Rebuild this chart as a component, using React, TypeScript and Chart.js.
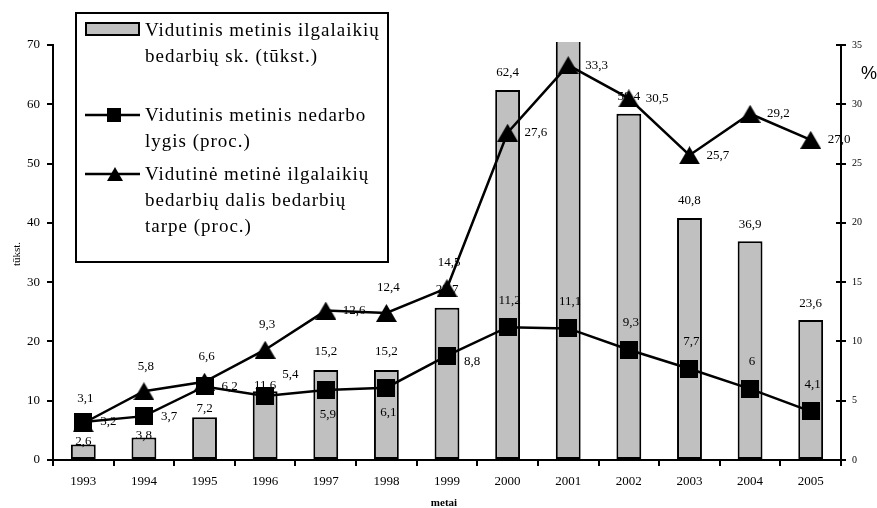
import { useEffect, useRef } from 'react';
import { Chart, registerables } from 'chart.js';

Chart.register(...registerables);

const years = ['1993', '1994', '1995', '1996', '1997', '1998', '1999', '2000', '2001', '2002', '2003', '2004', '2005'];
const longTermUnemployed = [2.6, 3.8, 7.2, 11.6, 15.2, 15.2, 25.7, 62.4, 72.0, 58.4, 40.8, 36.9, 23.6];
const unemploymentRate = [3.2, 3.7, 6.2, 5.4, 5.9, 6.1, 8.8, 11.2, 11.1, 9.3, 7.7, 6, 4.1];
const longTermShare = [3.1, 5.8, 6.6, 9.3, 12.6, 12.4, 14.5, 27.6, 33.3, 30.5, 25.7, 29.2, 27.0];

const leftMax = 70;
const leftStep = 10;
const rightMax = 35;
const rightStep = 5;

const legendLabels = [
  ['Vidutinis metinis ilgalaikių', 'bedarbių sk. (tūkst.)'],
  ['Vidutinis metinis nedarbo', 'lygis (proc.)'],
  ['Vidutinė metinė ilgalaikių', 'bedarbių dalis bedarbių', 'tarpe (proc.)'],
];
const leftTitle = 'tūkst.';
const rightTitle = '%';
const xTitle = 'metai';

// label placement (style only)
const barLabelLift = [3, 2, 9, 6, 18, 18, 18, 17, 17, 17, 18, 17, 17];
const shareLabelPos = ['top', 'top', 'top', 'top', 'right', 'top', 'top', 'right', 'right', 'right', 'right', 'right', 'right'];
const rateLabelPos = ['right', 'right', 'right', 'topRight', 'bottom', 'bottom', 'right', 'top', 'top', 'top', 'top', 'top', 'top'];

const SERIF = "'Liberation Serif', 'Times New Roman', serif";
const BAR_FILL = '#c0c0c0';

function makeSquare(size: number) {
  const c = document.createElement('canvas');
  c.width = size;
  c.height = size;
  const g = c.getContext('2d')!;
  g.fillStyle = '#000';
  g.fillRect(0, 0, size, size);
  return c;
}

function makeTriangle(w: number, h: number) {
  const c = document.createElement('canvas');
  c.width = w;
  c.height = h;
  const g = c.getContext('2d')!;
  g.fillStyle = '#000';
  g.beginPath();
  g.moveTo(w / 2, 0);
  g.lineTo(w, h);
  g.lineTo(0, h);
  g.closePath();
  g.fill();
  return c;
}

const fmt1 = (v: number) => v.toFixed(1).replace('.', ',');
const fmtRaw = (v: number) => String(v).replace('.', ',');

export default function App() {
  const ref = useRef<HTMLCanvasElement | null>(null);

  useEffect(() => {
    if (!ref.current) return;
    const squareImg = makeSquare(18);
    const triImg = makeTriangle(21, 18);

    const labelsPlugin = {
      id: 'customLabels',
      afterDatasetDraw(chart: any, args: any) {
        if (args.index !== 0) return;
        const ctx = chart.ctx;
        const meta = args.meta;
        ctx.save();
        ctx.font = `13px ${SERIF}`;
        ctx.fillStyle = '#000';
        ctx.textAlign = 'center';
        ctx.textBaseline = 'middle';
        meta.data.forEach((el: any, i: number) => {
          const v = longTermUnemployed[i];
          if (v > leftMax) return;
          ctx.fillText(fmt1(v), el.x, el.y - barLabelLift[i]);
        });
        ctx.restore();
      },
      afterDatasetsDraw(chart: any) {
        const ctx = chart.ctx;
        ctx.save();
        ctx.font = `13px ${SERIF}`;
        ctx.fillStyle = '#000';
        ctx.textBaseline = 'middle';
        const drawSet = (dsIndex: number, values: number[], pos: string[], fmt: (v: number) => string) => {
          const meta = chart.getDatasetMeta(dsIndex);
          meta.data.forEach((el: any, i: number) => {
            const t = fmt(values[i]);
            const p = pos[i];
            if (p === 'right') {
              ctx.textAlign = 'left';
              ctx.fillText(t, el.x + 17, el.y + (dsIndex === 1 && i === 6 ? 6 : 0));
            } else if (p === 'topRight') {
              ctx.textAlign = 'left';
              ctx.fillText(t, el.x + 17, el.y - 21);
            } else if (p === 'bottom') {
              ctx.textAlign = 'center';
              ctx.fillText(t, el.x + 2, el.y + 25);
            } else {
              ctx.textAlign = 'center';
              ctx.fillText(t, el.x + 2, el.y - (dsIndex === 1 ? 27 : 25));
            }
          });
        };
        drawSet(2, longTermShare, shareLabelPos, fmt1);
        drawSet(1, unemploymentRate, rateLabelPos, fmtRaw);
        ctx.restore();
      },
      afterDraw(chart: any) {
        const ctx = chart.ctx;
        const area = chart.chartArea;
        const y1 = chart.scales.y1;
        ctx.save();
        // inner half of right axis ticks
        ctx.strokeStyle = '#000';
        ctx.lineWidth = 2;
        y1.ticks.forEach((t: any) => {
          const yy = Math.round(y1.getPixelForValue(t.value));
          ctx.beginPath();
          ctx.moveTo(area.right - 5, yy);
          ctx.lineTo(area.right, yy);
          ctx.stroke();
        });

        // axis titles
        ctx.fillStyle = '#000';
        ctx.textAlign = 'center';
        ctx.textBaseline = 'middle';
        ctx.save();
        ctx.translate(17, 254);
        ctx.rotate(-Math.PI / 2);
        ctx.font = `11px ${SERIF}`;
        ctx.fillText(leftTitle, 0, 0);
        ctx.restore();
        ctx.font = `bold 11px ${SERIF}`;
        ctx.fillText(xTitle, 444, 503);
        ctx.font = "18px 'Liberation Sans', Arial, sans-serif";
        ctx.fillText(rightTitle, 869, 74);

        // legend box
        ctx.fillStyle = '#fff';
        ctx.fillRect(76, 13, 312, 249);
        ctx.strokeStyle = '#000';
        ctx.lineWidth = 2;
        ctx.strokeRect(76, 13, 312, 249);

        // legend symbols
        ctx.fillStyle = BAR_FILL;
        ctx.fillRect(86, 23, 53, 12);
        ctx.strokeRect(86, 23, 53, 12);
        ctx.lineWidth = 2.5;
        ctx.beginPath();
        ctx.moveTo(85, 115);
        ctx.lineTo(140, 115);
        ctx.moveTo(85, 174);
        ctx.lineTo(140, 174);
        ctx.stroke();
        ctx.fillStyle = '#000';
        ctx.fillRect(107, 108, 14, 14);
        ctx.beginPath();
        ctx.moveTo(115, 167);
        ctx.lineTo(123, 181);
        ctx.lineTo(107, 181);
        ctx.closePath();
        ctx.fill();

        // legend text
        ctx.font = `19px ${SERIF}`;
        (ctx as any).letterSpacing = '1px';
        ctx.textAlign = 'left';
        ctx.textBaseline = 'alphabetic';
        const baselines = [[36, 62], [121, 147], [180, 206, 232]];
        legendLabels.forEach((lines, i) => {
          lines.forEach((line, j) => ctx.fillText(line, 145, baselines[i][j]));
        });
        (ctx as any).letterSpacing = '0px';
        ctx.restore();
      },
    };

    const chart = new Chart(ref.current, {
      type: 'bar',
      data: {
        labels: years,
        datasets: [
          {
            type: 'bar',
            label: legendLabels[0].join(' '),
            data: longTermUnemployed,
            backgroundColor: BAR_FILL,
            borderColor: '#000',
            borderWidth: 2,
            borderSkipped: false,
            barPercentage: 0.41,
            categoryPercentage: 1,
            yAxisID: 'y',
            order: 3,
            clip: { left: 0, top: 3, right: 0, bottom: 0 },
          },
          {
            type: 'line',
            label: legendLabels[1].join(' '),
            data: unemploymentRate,
            borderColor: '#000',
            borderWidth: 2.5,
            pointStyle: squareImg as any,
            pointRadius: 9,
            fill: false,
            tension: 0,
            yAxisID: 'y1',
            order: 1,
          },
          {
            type: 'line',
            label: legendLabels[2].join(' '),
            data: longTermShare,
            borderColor: '#000',
            borderWidth: 2.5,
            pointStyle: triImg as any,
            pointRadius: 9,
            fill: false,
            tension: 0,
            yAxisID: 'y1',
            order: 2,
          },
        ] as any,
      },
      options: {
        responsive: false,
        animation: false,
        devicePixelRatio: 1,
        layout: { padding: { top: 45, left: 0, right: 0, bottom: 0 } },
        plugins: { legend: { display: false }, tooltip: { enabled: false } },
        scales: {
          x: {
            offset: true,
            grid: { display: true, drawOnChartArea: false, tickLength: 6, color: '#000', lineWidth: 2, offset: true },
            border: { display: true, color: '#000', width: 2 },
            ticks: { font: { family: SERIF, size: 13 }, color: '#000', padding: 8, maxRotation: 0, autoSkip: false },
            afterFit: (s: any) => { s.height = 48; },
          },
          y: {
            position: 'left',
            min: 0,
            max: leftMax,
            grid: { display: true, drawOnChartArea: false, tickLength: 6, color: '#000', lineWidth: 2 },
            border: { display: true, color: '#000', width: 2 },
            ticks: { stepSize: leftStep, font: { family: SERIF, size: 13 }, color: '#000', padding: 7 },
            afterFit: (s: any) => { s.width = 53; },
          },
          y1: {
            position: 'right',
            min: 0,
            max: rightMax,
            grid: { display: true, drawOnChartArea: false, tickLength: 5, color: '#000', lineWidth: 2 },
            border: { display: true, color: '#000', width: 2 },
            ticks: { stepSize: rightStep, font: { family: SERIF, size: 10 }, color: '#000', padding: 6 },
            afterFit: (s: any) => { s.width = 36; },
          },
        },
      } as any,
      plugins: [labelsPlugin],
    });
    return () => chart.destroy();
  }, []);

  return (
    <div style={{ position: 'absolute', left: 0, top: 0, width: 877, height: 508, background: '#fff' }}>
      <canvas ref={ref} width={877} height={508} style={{ display: 'block', width: 877, height: 508 }} />
    </div>
  );
}
